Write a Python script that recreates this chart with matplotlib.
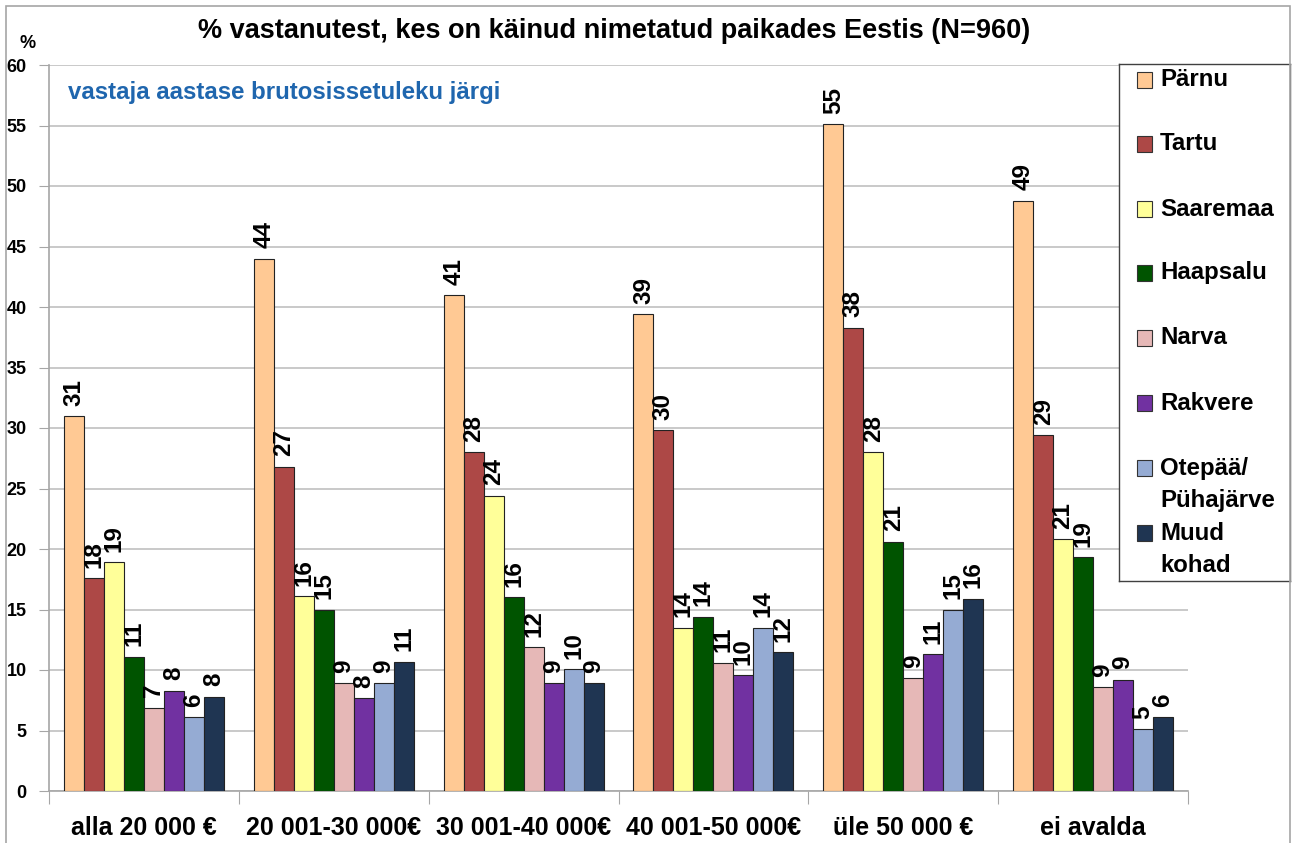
import matplotlib
matplotlib.use('Agg')
import matplotlib.pyplot as plt
import matplotlib.patches as mpatches
import numpy as np

plt.rcParams['font.family'] = ['Liberation Sans', 'DejaVu Sans']
plt.rcParams['font.weight'] = 'bold'

# Data
groups = ['alla 20 000 €', '20 001-30 000€', '30 001-40 000€', '40 001-50 000€',
          'üle 50 000 €', 'ei avalda']
places = ['Pärnu', 'Tartu', 'Saaremaa', 'Haapsalu', 'Narva', 'Rakvere',
          'Otepää/\nPühajärve', 'Muud\nkohad']
parnu = [31.0, 44.0, 41.0, 39.4, 55.1, 48.8]
tartu = [17.6, 26.8, 28.0, 29.8, 38.3, 29.4]
saaremaa = [18.9, 16.1, 24.4, 13.5, 28.0, 20.8]
haapsalu = [11.1, 15.0, 16.0, 14.4, 20.6, 19.3]
narva = [6.9, 8.9, 11.9, 10.6, 9.3, 8.6]
rakvere = [8.3, 7.7, 8.9, 9.6, 11.3, 9.2]
otepaa = [6.1, 8.9, 10.1, 13.5, 15.0, 5.1]
muud = [7.8, 10.7, 8.9, 11.5, 15.9, 6.1]
series = [parnu, tartu, saaremaa, haapsalu, narva, rakvere, otepaa, muud]

colors = ['#FFC994', '#AD4846', '#FFFF99', '#005400', '#E6B8B7',
          '#7131A1', '#95ABD3', '#1F3552']

W, H = 1292, 843
fig = plt.figure(figsize=(W / 100, H / 100), dpi=100)
fig.patch.set_facecolor('white')

# outer chart border
fig.patches.append(mpatches.Rectangle((6 / W, -0.01), (1290 - 6) / W, (H - 6) / H + 0.01,
                                      transform=fig.transFigure, fill=False,
                                      edgecolor='#A6A6A6', linewidth=1.2))

ax = fig.add_axes([49 / W, (H - 791) / H, (1188 - 49) / W, (791 - 65) / H])
ax.set_xlim(0, 6)
ax.set_ylim(0, 60)

bw = 20 / 190
x = np.arange(len(groups)) + 0.5
for j, vals in enumerate(series):
    xs = x + (j - 3.5) * bw
    ax.bar(xs, vals, bw, color=colors[j], edgecolor='#222222', linewidth=0.8, zorder=3)
    for xi, v in zip(xs, vals):
        ax.text(xi, v + 0.85, '%d' % int(np.floor(v + 0.5)), rotation=90,
                ha='center', va='bottom', fontsize=17.5, fontweight='bold', zorder=4)

ax.set_yticks(np.arange(0, 61, 5))
ax.yaxis.grid(True, color='#C0C0C0', linewidth=1.2, zorder=0)
ax.tick_params(axis='y', length=7, color='#A6A6A6', labelsize=13, pad=9)
for lbl in ax.get_yticklabels():
    lbl.set_fontweight('bold')

ax.set_xticks(np.arange(0, 7))
ax.set_xticklabels([])
ax.set_xticks(x, minor=True)
ax.set_xticklabels(groups, minor=True, fontsize=18, fontweight='bold')
ax.tick_params(axis='x', which='major', length=9, color='#A6A6A6')
ax.tick_params(axis='x', which='minor', length=0, pad=18)

for s in ['top', 'right']:
    ax.spines[s].set_visible(False)
for s in ['left', 'bottom']:
    ax.spines[s].set_color('#A6A6A6')
    ax.spines[s].set_linewidth(1.2)

fig.text(614 / W, 1 - 31 / H, '% vastanutest, kes on käinud nimetatud paikades Eestis (N=960)',
         ha='center', va='center', fontsize=19.5, fontweight='bold')
fig.text(28 / W, 1 - 43 / H, '%', ha='center', va='center', fontsize=13, fontweight='bold')
fig.text(68 / W, 1 - 92 / H, 'vastaja aastase brutosissetuleku järgi', ha='left', va='center',
         fontsize=17.3, fontweight='bold', color='#1F66AE')

# legend box
lx0, lx1, ly0, ly1 = 1119, 1290, 64, 581
lax = fig.add_axes([lx0 / W, 1 - ly1 / H, (lx1 - lx0) / W, (ly1 - ly0) / H])
lax.set_xlim(lx0, lx1)
lax.set_ylim(ly1, ly0)
lax.set_xticks([])
lax.set_yticks([])
lax.set_facecolor('white')
for s in lax.spines.values():
    s.set_color('#404040')
    s.set_linewidth(1)
ys = [80, 144, 209, 273, 338, 403, 468, 533]
for j, (name, y) in enumerate(zip(places, ys)):
    lax.add_patch(mpatches.Rectangle((1137, y - 8), 15, 16, facecolor=colors[j],
                                     edgecolor='#333333', linewidth=0.8))
    for k, line in enumerate(name.split('\n')):
        lax.text(1160, y + k * 33, line, ha='left', va='center', fontsize=17.3,
                 fontweight='bold')

fig.savefig('out.png', dpi=100, facecolor='white')
